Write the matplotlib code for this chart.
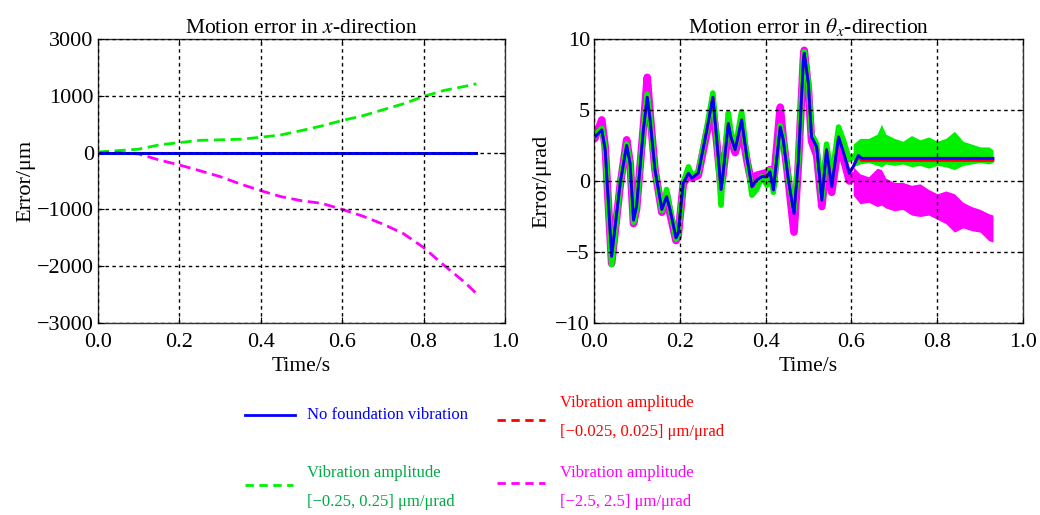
import matplotlib
matplotlib.use('Agg')
import matplotlib.pyplot as plt
from matplotlib.lines import Line2D

plt.rcParams['font.family'] = ['Liberation Serif', 'DejaVu Serif']
plt.rcParams['mathtext.fontset'] = 'stix'
plt.rcParams['axes.unicode_minus'] = True

# ---- 左图: x 方向运动误差 (μm) ----
t_x = [0.0, 0.05, 0.10, 0.15, 0.20, 0.25, 0.30, 0.35, 0.40, 0.45, 0.50,
       0.55, 0.60, 0.65, 0.70, 0.75, 0.80, 0.85, 0.90, 0.93]
x_blue = [0] * 20
x_red = [0] * 20
x_green = [10, 35, 60, 135, 176, 215, 225, 235, 270, 312, 388,
           470, 565, 647, 753, 858, 988, 1094, 1164, 1211]
x_magenta = [0, 0, -24, -129, -218, -318, -423, -553, -670, -776, -847,
             -894, -1000, -1117, -1258, -1423, -1670, -1982, -2276, -2481]
x_yticks = [-3000, -2000, -1000, 0, 1000, 2000]
x_yticklabels = ['\u22123000', '\u22122000', '\u22121000', '0', '1000', '3000']

# ---- 右图: θx 方向运动误差 (μrad) ----
t_th = [0.0, 0.002, 0.018, 0.026, 0.041, 0.061, 0.076, 0.084, 0.092, 0.099,
        0.115, 0.124, 0.130, 0.142, 0.158, 0.169, 0.177, 0.191, 0.196, 0.208,
        0.220, 0.228, 0.243, 0.263, 0.277, 0.286, 0.296, 0.300, 0.313, 0.319,
        0.329, 0.344, 0.356, 0.368, 0.379, 0.391, 0.403, 0.410, 0.418, 0.434,
        0.441, 0.453, 0.466, 0.476, 0.488, 0.490, 0.4995, 0.507, 0.519, 0.531,
        0.542, 0.554, 0.570, 0.582, 0.595, 0.604, 0.616, 0.624, 0.93]
th_blue = [3.1, 3.1, 3.6, 2.2, -5.3, -0.15, 2.5, 1.25, -2.75, -1.8,
           3.6, 5.9, 4.5, 0.8, -2.0, -1.1, -2.0, -4.0, -3.7, -0.15,
           0.55, 0.2, 0.55, 3.6, 5.9, 2.9, -0.6, 0.3, 4.05, 3.1,
           2.2, 4.3, 1.7, -0.4, 0.07, 0.3, 0.3, 0.65, -0.63, 3.8,
           2.9, 0.07, -2.3, 1.25, 8.5, 9.0, 6.9, 3.1, 2.4, -1.35,
           2.2, -0.4, 3.1, 1.95, 0.54, 1.0, 1.8, 1.6, 1.6]
th_red = [3.1, 3.1, 3.6, 2.2, -5.3, -0.15, 2.5, 1.25, -2.75, -1.8,
          3.6, 5.9, 4.5, 0.8, -2.0, -1.1, -2.0, -4.0, -3.7, -0.15,
          0.55, 0.2, 0.55, 3.6, 5.9, 2.9, -0.6, 0.3, 4.05, 3.1,
          2.2, 4.3, 1.7, -0.4, 0.07, 0.3, 0.3, 0.65, -0.63, 3.8,
          2.9, 0.07, -2.3, 1.25, 8.5, 9.0, 6.9, 3.1, 2.4, -1.35,
          2.2, -0.4, 3.1, 1.95, 0.54, 1.0, 1.7, 1.45, 1.45]

# 0.604 s 之前绿/品红曲线与蓝线基本重合
t_early = t_th[:56]
th_green_early = [3.1, 3.2, 3.7, 2.3, -5.9, -0.2, 2.6, 1.3, -2.9, -1.9,
                  3.7, 6.1, 4.6, 0.8, -2.1, -0.6, -1.9, -4.1, -3.8, -0.1,
                  1.0, 0.4, 0.6, 3.8, 6.2, 3.0, -1.7, 0.2, 4.8, 3.5,
                  2.3, 4.9, 1.8, -1.0, -0.6, 0.3, -0.3, 0.8, -0.8, 3.9,
                  3.0, 0.2, -2.0, 1.5, 8.6, 9.1, 7.0, 3.3, 2.6, -1.2,
                  2.6, 0.2, 3.8, 2.8, 1.5, 1.7]
th_magenta_early = [3.0, 3.0, 4.3, 2.4, -5.8, -0.3, 2.9, 1.3, -3.0, -2.0,
                    3.8, 7.3, 5.0, 0.8, -2.2, -1.0, -2.3, -4.2, -3.9, -0.2,
                    0.4, 0.2, 0.4, 3.4, 5.2, 2.7, -0.4, 0.3, 3.6, 3.0,
                    2.0, 3.6, 1.5, -0.3, 0.4, 0.5, 0.6, 0.8, -0.3, 5.2,
                    3.0, 0.0, -3.6, 1.0, 8.6, 9.2, 6.5, 2.8, 1.8, -1.8,
                    1.5, -0.8, 2.6, 1.5, 0.0, 0.3]

# 0.604 s 之后的振动带 (上下包络)
t_band = [0.604, 0.62, 0.64, 0.66, 0.67, 0.68, 0.70, 0.72, 0.74, 0.76,
          0.78, 0.80, 0.82, 0.84, 0.86, 0.88, 0.90, 0.92, 0.93]
green_hi = [2.6, 3.0, 3.0, 3.3, 4.0, 3.3, 3.0, 2.8, 3.2, 2.9,
            3.1, 2.8, 3.0, 3.5, 2.8, 2.6, 2.4, 2.4, 2.2]
green_lo = [1.0, 1.2, 1.3, 1.1, 1.0, 1.2, 1.1, 1.2, 1.0, 1.1,
            0.9, 1.1, 1.0, 0.8, 1.1, 1.2, 1.3, 1.2, 1.3]
magenta_hi = [1.0, 0.5, 0.3, 0.9, 0.8, 0.2, -0.1, -0.1, -0.3, -0.2,
              -0.6, -0.9, -0.7, -0.9, -1.5, -1.8, -2.0, -2.3, -2.4]
magenta_lo = [-1.0, -1.6, -1.5, -1.8, -1.7, -1.9, -2.1, -2.0, -2.4, -2.5,
              -2.4, -2.7, -3.0, -3.6, -3.3, -3.5, -3.6, -4.2, -4.3]
th_yticks = [-10, -5, 0, 5, 10]
th_yticklabels = ['\u221210', '\u22125', '0', '5', '10']

xticks = [0.0, 0.2, 0.4, 0.6, 0.8, 1.0]

BLUE = '#0000ff'
RED = '#ff0000'
GREEN = '#00f000'
MAGENTA = '#ff00ff'
GREEN_TXT = '#00aa44'

fig = plt.figure(figsize=(10.4, 5.15), dpi=100)
ax1 = fig.add_axes([0.0942, 0.3728, 0.3913, 0.5515])
ax2 = fig.add_axes([0.5712, 0.3728, 0.4125, 0.5515])


def style_axes(ax):
    ax.set_xlim(0, 1)
    ax.set_xticks(xticks)
    ax.set_xticklabels(['%.1f' % v for v in xticks])
    ax.grid(True, color='black', linestyle=(0, (2.5, 2.5)), linewidth=1.0)
    ax.set_axisbelow(False)
    ax.tick_params(direction='in', length=4, top=True, right=True,
                   labelsize=16)
    ax.tick_params(axis='x', pad=7)
    ax.tick_params(axis='y', pad=3)
    for s in ax.spines.values():
        s.set_linewidth(1.0)
        s.set_color('#333333')
    ax.set_xlabel('Time/s', fontsize=15.5, labelpad=4)


# 左图
ax1.plot(t_x, x_red, color=RED, lw=2, ls=(0, (4, 2)))
ax1.plot(t_x, x_green, color=GREEN, lw=2, ls=(0, (4, 2)))
ax1.plot(t_x, x_magenta, color=MAGENTA, lw=2, ls=(0, (4, 2)))
ax1.plot(t_x, x_blue, color=BLUE, lw=2.2)
ax1.set_ylim(-3000, 2000)
ax1.set_yticks(x_yticks)
ax1.set_yticklabels(x_yticklabels)
style_axes(ax1)
ax1.set_title('Motion error in $x$-direction', fontsize=15.5, pad=4)
ax1.set_ylabel('Error/\u03bcm', fontsize=16, labelpad=1)

# 右图
ax2.plot(t_early, th_magenta_early, color=MAGENTA, lw=5.5, solid_joinstyle='round')
ax2.fill_between(t_band, magenta_lo, magenta_hi, color=MAGENTA, lw=0)
ax2.plot(t_early, th_green_early, color=GREEN, lw=4, solid_joinstyle='round')
ax2.fill_between(t_band, green_lo, green_hi, color=GREEN, lw=0)
ax2.plot(t_th, th_red, color=RED, lw=2)
ax2.plot(t_th, th_blue, color=BLUE, lw=2)
ax2.set_ylim(-10, 10)
ax2.set_yticks(th_yticks)
ax2.set_yticklabels(th_yticklabels)
style_axes(ax2)
ax2.set_title('Motion error in $\\theta_x$-direction', fontsize=15.5, pad=4)
ax2.set_ylabel('Error/\u03bcrad', fontsize=16, labelpad=3)

# 图例 (手动绘制)
W, H = 1040.0, 515.0


def legend_item(x0, x1, y_line, color, ls, text_x, lines_y, text, tcolor):
    fig.add_artist(Line2D([x0 / W, x1 / W], [1 - y_line / H, 1 - y_line / H],
                          color=color, lw=2, ls=ls, transform=fig.transFigure))
    for yy, s in zip(lines_y, text):
        fig.text(text_x / W, 1 - yy / H, s, color=tcolor, fontsize=12,
                 va='center', ha='left')


legend_item(245, 295, 415, BLUE, '-', 307, [415],
            ['No foundation vibration'], BLUE)
legend_item(497, 545, 420, RED, (0, (3, 2)), 560, [403, 432],
            ['Vibration amplitude', '[\u22120.025, 0.025] \u03bcm/\u03bcrad'], RED)
legend_item(245, 293, 485, GREEN, (0, (3, 2)), 307, [473, 502],
            ['Vibration amplitude', '[\u22120.25, 0.25] \u03bcm/\u03bcrad'], GREEN_TXT)
legend_item(497, 545, 483, MAGENTA, (0, (3, 2)), 560, [473, 502],
            ['Vibration amplitude', '[\u22122.5, 2.5] \u03bcm/\u03bcrad'], MAGENTA)

fig.savefig('out.png', dpi=100)
